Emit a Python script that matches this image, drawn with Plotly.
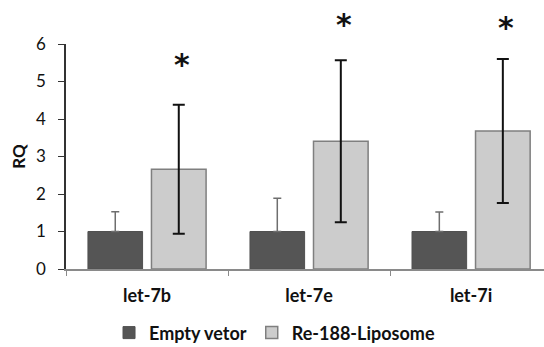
import plotly.graph_objects as go

categories = ["let-7b", "let-7e", "let-7i"]
empty_vetor = [1.0, 1.0, 1.0]
empty_vetor_err = [0.53, 0.89, 0.52]
liposome = [2.66, 3.41, 3.68]
liposome_err = [1.72, 2.16, 1.92]
star_y = [5.44, 6.51, 6.43]
y_ticks = [0, 1, 2, 3, 4, 5, 6]
Y_MAX = 6

FONT = "Lato"

fig = go.Figure()
fig.add_trace(go.Bar(
    x=categories, y=empty_vetor, name="<b>Empty vetor</b>",
    marker=dict(color="#555555", line=dict(color="#505050", width=1)),
    error_y=dict(type="data", array=empty_vetor_err, arrayminus=[0] * 3,
                 symmetric=False, color="#6e6e6e", thickness=1.5, width=4),
))
fig.add_trace(go.Bar(
    x=categories, y=liposome, name="<b>Re-188-Liposome</b>",
    marker=dict(color="#cccccc", line=dict(color="#7f7f7f", width=1.5)),
    error_y=dict(type="data", array=liposome_err, color="#111111",
                 thickness=2, width=6),
))

for i, yv in enumerate(star_y):
    fig.add_annotation(x=i + 0.215, y=yv / Y_MAX, text="<b>*</b>", showarrow=False,
                       font=dict(family="DejaVu Sans", size=30, color="#111111"),
                       xref="x", yref="paper", yanchor="middle")

fig.update_layout(
    width=544, height=347,
    margin=dict(l=66, r=0, t=44, b=78, autoexpand=False),
    paper_bgcolor="white", plot_bgcolor="white",
    barmode="group", bargap=0.216, bargroupgap=0.14,
    font=dict(family=FONT, color="#111111"),
    showlegend=True,
    legend=dict(orientation="h", x=0.09, xanchor="left", y=-0.284, yanchor="middle",
                font=dict(family=FONT, size=18, color="#111111"),
                itemwidth=30, traceorder="normal"),
    xaxis=dict(range=[-0.5, 2.45], showline=True, linecolor="#8a8a8a", linewidth=1.5,
               ticks="outside", tickson="boundaries", ticklen=5, tickcolor="#8a8a8a",
               tickfont=dict(family=FONT, size=18, color="#111111"),
               ticklabelstandoff=10, showgrid=False, automargin=False),
    yaxis=dict(range=[0, Y_MAX], tickvals=y_ticks, showline=True, linecolor="#333333",
               linewidth=1.5, ticks="outside", ticklen=6, tickcolor="#333333",
               tickfont=dict(family=FONT, size=17, color="#111111"), showgrid=False,
               zeroline=False, ticklabelstandoff=9, automargin=False,
               title=dict(text="<b>RQ</b>", font=dict(family=FONT, size=17), standoff=6)),
)
fig.update_xaxes(tickprefix="<b>", ticksuffix="</b>")
fig.update_yaxes(tickprefix="<b>", ticksuffix="</b>")

fig.write_html("out.html", config={"displayModeBar": False},
               post_script="document.body.style.margin='0';")
